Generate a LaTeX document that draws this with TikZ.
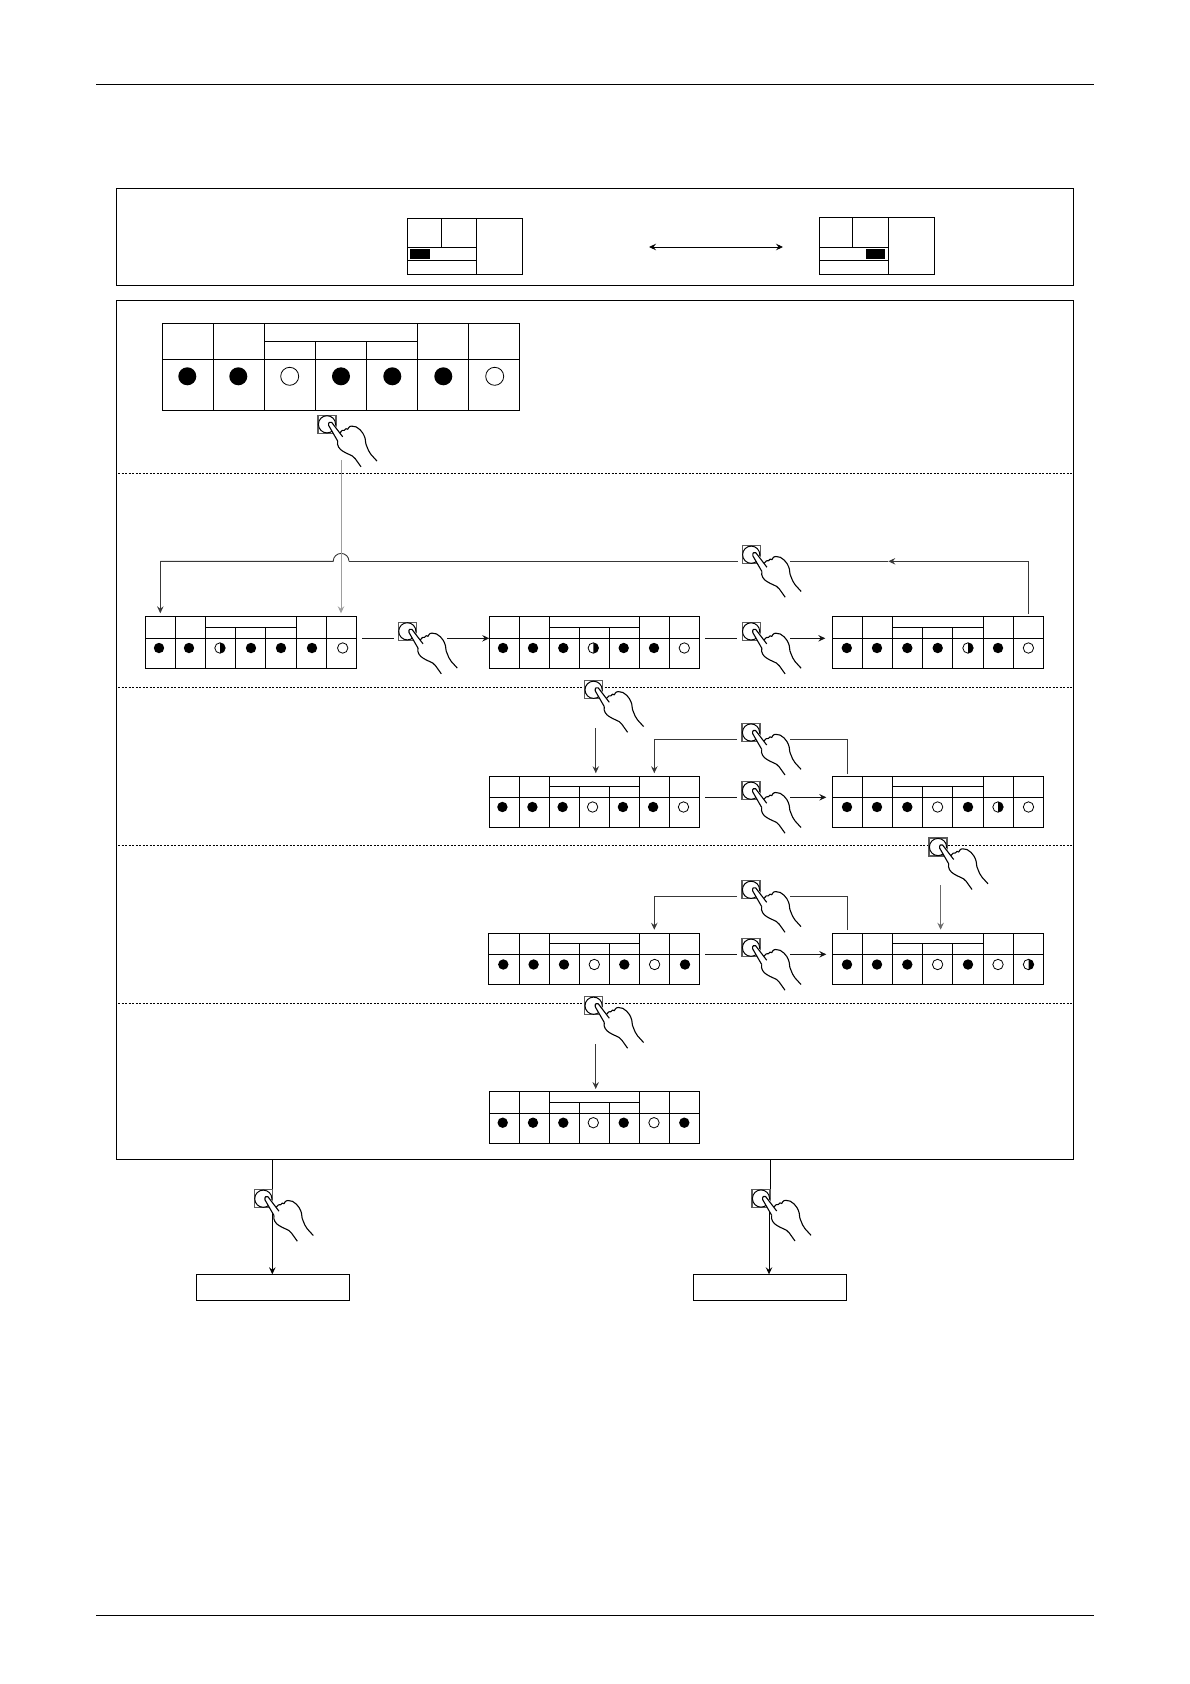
\documentclass[tikz,border=0pt]{standalone}
\usetikzlibrary{arrows.meta}
\definecolor{lineA}{gray}{0.22}
\definecolor{lineB}{gray}{0.62}
\definecolor{lineC}{gray}{0.08}
\definecolor{lineD}{gray}{0.42}
\tikzset{
  wire/.style={line width=0.9pt,draw=lineA},
  midwire/.style={line width=0.9pt,draw=lineC},
  lightwire/.style={line width=0.9pt,draw=lineB},
  softwire/.style={line width=0.9pt,draw=lineD},
  arrowed/.style={-{Stealth[length=7pt,width=6.5pt,inset=2.5pt]}},
  frame/.style={draw=black,line width=1pt,inner sep=0pt,outer sep=0pt},
  sep/.style={line width=1pt,dash pattern=on 2pt off 1.5pt,draw=black},
  rule/.style={line width=1pt,draw=black},
  cell/.style={line width=0.9pt,draw=black},
  btnbox/.style={draw=black!65,fill=white,line width=1.1pt,inner sep=0pt,outer sep=0pt,minimum size=18pt},
  pics/hand/.style={code={
    \node[btnbox] (-b) at (0,0) {};
    \draw[line width=1pt,fill=white] (0,0) circle (8.6pt);
    \fill[white] (1.7,1.2) .. controls (1,-2) and (3,-3) .. (4,-2.2) -- (9,1.8) -- (13,8.5)
      .. controls (16,5) and (20,5) .. (24.7,1.8) .. controls (32,2) and (37,10) .. (37.3,11.8)
      .. controls (39,15) and (38,19) .. (39.7,21.8) .. controls (41,25) and (42,28) .. (44,30.2)
      -- (50,36.8) -- (34,42.5) -- (28.3,34.5) .. controls (25,31) and (20,30) .. (15.7,26.8)
      .. controls (13,25) and (10,23) .. (10.7,16.8) -- cycle;
    \draw[line width=1.1pt,line join=round] (10.7,16.8) -- (1.7,1.2)
      .. controls (1,-2) and (3,-3) .. (4.6,-2) -- (15.7,12.5);
    \draw[line width=1.1pt,line join=round] (13,8.5) .. controls (14.5,6.5) and (16,5) .. (17.3,6)
      .. controls (18,4) and (20,4) .. (20.7,5) .. controls (22,2) and (24,1.5) .. (24.7,1.8)
      .. controls (31,1) and (36.5,9) .. (37.3,11.8)
      .. controls (39,15) and (38,19) .. (39.7,21.8) .. controls (41,25) and (42,28) .. (44,30.2) -- (50,36.8);
    \draw[line width=1.1pt,line join=round] (10.7,16.8) .. controls (9.5,21) and (12.5,25) .. (15.7,26.8)
      .. controls (18,28.5) and (20,29) .. (22.3,30.2) .. controls (25,31) and (26,32) .. (28.3,34.5) -- (34,42.5);
  }}
}
% name, column edges, y top, y sub, y mid, y bottom, dot y, dot radius, states; dot x list in \dotxs
\newcommand\statepanel[9]{%
  \pgfmathsetmacro\xl{{#2}[0]}\pgfmathsetmacro\xr{{#2}[7]}%
  \pgfmathsetmacro\pw{\xr-\xl}\pgfmathsetmacro\ph{#6-#3}%
  \pgfmathsetmacro\pcx{(\xr+\xl)/2}\pgfmathsetmacro\pcy{(#3+#6)/2}%
  \node[frame,line width=0.9pt,minimum width=\pw pt,minimum height=\ph pt] (#1) at (\pcx,\pcy) {};
  \foreach \k in {1,2,5,6}{\pgfmathsetmacro\xk{{#2}[\k]}\draw[cell] (\xk,#3) -- (\xk,#6);}
  \foreach \k in {3,4}{\pgfmathsetmacro\xk{{#2}[\k]}\draw[cell] (\xk,#4) -- (\xk,#6);}
  \pgfmathsetmacro\xa{{#2}[2]}\pgfmathsetmacro\xb{{#2}[5]}%
  \draw[cell] (\xa,#4) -- (\xb,#4);
  \draw[cell] (\xl,#5) -- (\xr,#5);
  \foreach \s/\xp in {#9}{\statedot{\xp}{#7}{#8}{\s}}%
}
\newcommand\statedot[4]{%
  \if #4F\fill[black] (#1,#2) circle (#3pt);
  \else\if #4O\draw[line width=0.8pt,fill=white] (#1,#2) circle (#3pt);
  \else\draw[line width=0.8pt,fill=white] (#1,#2) circle (#3pt);
    \fill[black] (#1,#2) ++(0,-#3) arc[start angle=90,end angle=-90,radius=#3pt] -- cycle;
  \fi\fi}
\begin{document}
\begin{tikzpicture}[x=1pt,y=-1pt]
\useasboundingbox (0,0) rectangle (1190,1684);
% page rules
\coordinate (ht1) at (96,84.5); \coordinate (ht2) at (1094,84.5);
\coordinate (hb1) at (96,1615.5); \coordinate (hb2) at (1094,1615.5);
\draw[rule] (ht1) -- (ht2);
\draw[rule] (hb1) -- (hb2);
% outer frames
\node[frame,minimum width=957.2pt,minimum height=97pt] (top) at (594.9,236.8) {};
\node[frame,minimum width=957.2pt,minimum height=859.2pt] (main) at (594.9,729.85) {};
% separators
\foreach \n/\yy in {a/473,b/687.7,c/845.3,d/1003.6}{
  \coordinate (s\n1) at (118,\yy); \coordinate (s\n2) at (1073,\yy);
  \draw[sep] (s\n1) -- (s\n2);
}
% header mini-panels
\node[frame,line width=0.9pt,minimum width=115pt,minimum height=56pt] (mp1) at (464.8,246.3) {};
\draw[cell] (441.3,218.3) -- (441.3,247.3) (476.3,218.3) -- (476.3,274.3) (407.3,247.3) -- (476.3,247.3) (407.3,260.3) -- (476.3,260.3);
\fill[black] (410,249) rectangle (430,259);
\node[frame,line width=0.9pt,minimum width=115pt,minimum height=57pt] (mp2) at (876.8,245.8) {};
\draw[cell] (852.3,217.3) -- (852.3,247.3) (888.3,217.3) -- (888.3,274.3) (819.3,247.3) -- (888.3,247.3) (819.3,260.3) -- (888.3,260.3);
\fill[black] (866,249) rectangle (885,259);
\coordinate (ta) at (649,247); \coordinate (tb) at (783,247);
\draw[line width=0.9pt,{Stealth[length=7pt,width=6.5pt,inset=2.5pt]}-{Stealth[length=7pt,width=6.5pt,inset=2.5pt]}] (ta) -- (tb);
% state panels
\statepanel{big}{162.3,213.4,264.3,315.6,366.6,417.6,468.6,519.3}{323.3}{341.3}{359.3}{410.3}{376.3}{9}{F/187.3,F/238.3,O/289.7,F/341,F/392.3,F/443.3,O/494.7}
\statepanel{pA}{145.7,175.3,205.3,235.3,265.3,296.3,326.3,356.3}{616.3}{627.3}{638.3}{668.3}{648}{5.2}{F/159,F/189,H/220,F/251,F/281,F/312,O/342.7}
\statepanel{pB}{489.2,519.3,549.4,579.4,609.5,639.6,669.7,699.7}{616.3}{627.3}{638.3}{668.3}{648}{5.2}{F/503,F/533,F/563.3,H/593.3,F/623.7,F/654,O/684.3}
\statepanel{pC}{832.3,862.4,892.5,922.5,952.6,983,1013.4,1043.8}{616.3}{627.3}{638.3}{668.3}{648}{5.2}{F/846.8,F/877,F/907.3,F/937.7,H/968,F/998,O/1028.4}
\statepanel{pD}{489.2,519.3,549.4,579.4,609.5,639.6,669.7,699.7}{776.7}{786.7}{797.3}{827.3}{807}{5.2}{F/502.4,F/532.4,F/562.6,O/592.6,F/622.9,F/653.1,O/683.5}
\statepanel{pE}{832.3,862.4,892.5,922.5,952.6,983,1013.4,1043.8}{776.7}{786.7}{797.3}{827.3}{807}{5.2}{F/847,F/877,F/907.3,O/937.6,F/968,H/998,O/1028.5}
\statepanel{pF}{488.5,519.3,549.4,579.4,609.5,639.6,669.7,699.7}{933.7}{943.7}{954.7}{984.3}{964.5}{5.2}{F/503.3,F/533.6,F/564,O/594.3,F/624.3,O/654.6,F/685}
\statepanel{pG}{832.3,862.4,892.5,922.5,952.6,983,1013.4,1043.8}{933.7}{943.7}{954.7}{984.3}{964.5}{5.2}{F/847,F/877,F/907.3,O/937.6,F/968,O/998,H/1028.5}
\statepanel{pH}{489.3,519.3,549.4,579.4,609.5,639.6,669.7,699.7}{1091}{1102.3}{1113.3}{1143.3}{1122.7}{5.2}{F/502.7,F/533,F/563.3,O/593.3,F/623.7,O/654,F/684.3}
% bottom boxes
\node[frame,line width=0.9pt,minimum width=153.4pt,minimum height=26pt] (bl) at (273,1287.3) {};
\node[frame,line width=0.9pt,minimum width=153pt,minimum height=26pt] (br) at (769.8,1287.3) {};
% connector ends beside the hands
\coordinate (e1) at (341,460);
\coordinate (r1) at (1028.7,614); \coordinate (r2) at (1028.7,561.3); \coordinate (r3) at (888.3,561.3);
\coordinate (r4) at (790,561.3); \coordinate (r5) at (737.7,561.3); \coordinate (r6) at (349,561.3);
\coordinate (r7) at (160.3,561.3);
\coordinate (m1) at (362,638.3); \coordinate (m2) at (394,638.3); \coordinate (m3) at (447,638.3);
\coordinate (m4) at (705,638.3); \coordinate (m5) at (737,638.3); \coordinate (m6) at (790,638.3);
\coordinate (d1) at (595.8,728.3);
\coordinate (f1) at (847.7,774); \coordinate (f2) at (847.7,739.3); \coordinate (f3) at (790,739.3);
\coordinate (f4) at (737,739.3); \coordinate (f5) at (654.3,739.3);
\coordinate (n1) at (705,797.3); \coordinate (n2) at (737,797.3); \coordinate (n3) at (790,797.3);
\coordinate (g0) at (940.6,885);
\coordinate (k1) at (847.7,930); \coordinate (k2) at (847.7,896.3); \coordinate (k3) at (790,896.3);
\coordinate (k4) at (737,896.3); \coordinate (k5) at (654.3,896.3);
\coordinate (o1) at (705,954.3); \coordinate (o2) at (737,954.3); \coordinate (o3) at (790,954.3);
\coordinate (q1) at (595.7,1044);
% connectors
\draw[wire,arrowed,shorten >=3pt] (r7) -- (r7 |- pA.north);
\draw[wire] (r6) arc[start angle=0,end angle=180,radius=7.9pt] -- (r7);
\draw[wire] (r5) -- (r6);
\draw[wire,arrowed] (r1) -- (r2) -- (r3);
\draw[wire] (r3) -- (r4);
\draw[lightwire,arrowed,shorten >=3pt] (e1) -- (e1 |- pA.north);
\draw[midwire] (m1) -- (m2);
\draw[midwire,arrowed] (m3) -- (pB.west |- m3);
\draw[midwire] (m4) -- (m5);
\draw[midwire,arrowed,shorten >=7pt] (m6) -- (pC.west |- m6);
\draw[wire,arrowed,shorten >=3.5pt] (d1) -- (d1 |- pD.north);
\draw[wire] (f1) -- (f2) -- (f3);
\draw[wire,arrowed,shorten >=3.5pt] (f4) -- (f5) -- (f5 |- pD.north);
\draw[midwire] (n1) -- (n2);
\draw[midwire,arrowed,shorten >=6pt] (n3) -- (pE.west |- n3);
\draw[softwire,arrowed,shorten >=4pt] (g0) -- (g0 |- pG.north);
\draw[wire] (k1) -- (k2) -- (k3);
\draw[wire,arrowed,shorten >=4pt] (k4) -- (k5) -- (k5 |- pF.north);
\draw[midwire] (o1) -- (o2);
\draw[midwire,arrowed,shorten >=6pt] (o3) -- (pG.west |- o3);
\draw[wire,arrowed,shorten >=2pt] (q1) -- (q1 |- pH.north);
\coordinate (bl0) at (272.3,1159); \coordinate (br0) at (770.3,1159); \coordinate (br1) at (770.3,1205); \coordinate (br2) at (769,1205);
\draw[line width=0.9pt,draw=black,arrowed] (bl0) -- (bl0 |- bl.north);
\draw[line width=0.9pt,draw=black] (br0) -- (br1);
\draw[line width=0.9pt,draw=black,arrowed] (br2) -- (br2 |- br.north);
% hands
\pic (h1) at (327,424.3) {hand};
\pic (h2) at (407.3,631.3) {hand};
\pic (h3) at (751.1,631.4) {hand};
\pic (h4) at (751.2,554.7) {hand};
\pic (h5) at (593.6,689.8) {hand};
\pic (h6) at (751,732.5) {hand};
\pic (h7) at (751,790.7) {hand};
\pic (h8) at (938,847) {hand};
\pic (h9) at (751,889.8) {hand};
\pic (h10) at (751,947.7) {hand};
\pic (h11) at (593.6,1005.7) {hand};
\pic (h12) at (263.3,1198.7) {hand};
\pic (h13) at (761,1198.5) {hand};
\end{tikzpicture}
\end{document}
